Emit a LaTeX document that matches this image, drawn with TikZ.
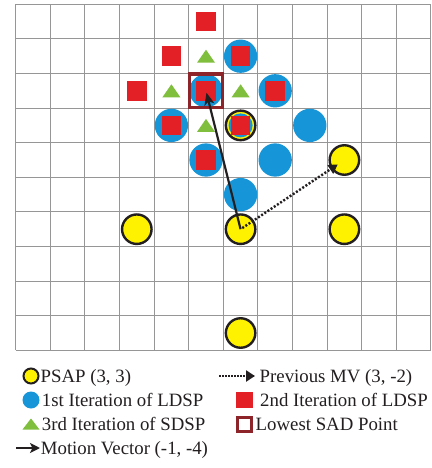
\documentclass[tikz,border=0pt]{standalone}
\usepackage{fontspec}
\setmainfont{Liberation Serif}
\usetikzlibrary{arrows.meta}
\definecolor{psapyellow}{RGB}{255,242,0}
\definecolor{darkline}{RGB}{35,31,32}
\definecolor{ldspblue}{RGB}{22,150,216}
\definecolor{ldspred}{RGB}{226,32,38}
\definecolor{sdspgreen}{RGB}{128,190,62}
\definecolor{sadred}{RGB}{140,36,42}
\definecolor{gridgray}{RGB}{150,150,150}
\begin{document}
\begin{tikzpicture}[x=1pt,y=-1pt,
  gridline/.style={draw=gridgray,line width=1pt},
  psap/.style={circle,fill=psapyellow,draw=darkline,line width=2.4pt,minimum size=29.5pt,inner sep=0pt},
  ldspone/.style={circle,fill=ldspblue,minimum size=33.3pt,inner sep=0pt},
  ldsptwo/.style={rectangle,fill=ldspred,minimum size=19.5pt,inner sep=0pt},
  sadbox/.style={rectangle,draw=sadred,line width=3.3pt,minimum size=33.3pt,inner sep=0pt},
  mvarrow/.style={draw=darkline,line width=2.2pt,-{Stealth[length=12pt,width=10pt,inset=3pt]}},
  pmvarrow/.style={draw=darkline,line width=2.4pt,dash pattern=on 2pt off 1.8pt,-{Triangle[length=9pt,width=10pt]}},
  legtext/.style={anchor=base west,inner sep=0pt,text=darkline,font=\fontsize{18.8}{22}\selectfont},
  legarrowsolid/.style={draw=darkline,line width=2.2pt,-{Stealth[length=10pt,width=10pt,inset=2.5pt]}},
  legarrowdot/.style={draw=darkline,line width=2.2pt,dash pattern=on 1.6pt off 1.4pt,-{Triangle[length=9pt,width=11pt]}}
]
\useasboundingbox (0,0) rectangle (431,468);
\fill[white] (0,0) rectangle (431,468);

% grid
\foreach \i in {0,...,12} \draw[gridline] ({15.7+34.6*\i},4.3) -- ({15.7+34.6*\i},350.3);
\foreach \j in {0,...,10} \draw[gridline] (15.7,{4.3+34.6*\j}) -- (431,{4.3+34.6*\j});

\begin{scope}[shift={(15.7,4.3)},x=34.6pt,y=-34.6pt]
  % PSAP points
  \node[psap] (y0) at (6.5,6.5) {};
  \node[psap] (y1) at (3.5,6.5) {};
  \node[psap] (y2) at (9.5,6.5) {};
  \node[psap] (y3) at (6.5,9.5) {};
  \node[psap] (y4) at (6.5,3.5) {};
  \node[psap] (y5) at (9.5,4.5) {};
  % 1st iteration LDSP
  \node[ldspone] (b1) at (6.5,1.5) {};
  \node[ldspone] (b2) at (5.5,2.5) {};
  \node[ldspone] (b3) at (7.5,2.5) {};
  \node[ldspone] (b4) at (4.5,3.5) {};
  \node[ldspone] (b5) at (8.5,3.5) {};
  \node[ldspone] (b6) at (5.5,4.5) {};
  \node[ldspone] (b7) at (7.5,4.5) {};
  \node[ldspone] (b8) at (6.5,5.5) {};
  \node[ldspone,minimum size=24pt] (b0) at (6.5,3.5) {};
  % 2nd iteration LDSP
  \node[ldsptwo] (r1) at (5.5,0.5) {};
  \node[ldsptwo] (r2) at (4.5,1.5) {};
  \node[ldsptwo] (r3) at (6.5,1.5) {};
  \node[ldsptwo] (r4) at (3.5,2.5) {};
  \node[ldsptwo] (r5) at (5.5,2.5) {};
  \node[ldsptwo] (r6) at (7.5,2.5) {};
  \node[ldsptwo] (r7) at (4.5,3.5) {};
  \node[ldsptwo] (r8) at (6.5,3.5) {};
  \node[ldsptwo] (r9) at (5.5,4.5) {};
  % 3rd iteration SDSP
  \coordinate (g1) at (5.5,1.5);
  \coordinate (g2) at (4.5,2.5);
  \coordinate (g3) at (6.5,2.5);
  \coordinate (g4) at (5.5,3.5);
  \foreach \g in {g1,g2,g3,g4}
    \fill[sdspgreen] (\g) ++(-9pt,-6.5pt) -- ++(18pt,0pt) -- ++(-9pt,13pt) -- cycle;
  % lowest SAD point
  \node[sadbox] (sad) at (5.5,2.5) {};
\end{scope}

% vectors
\draw[pmvarrow,shorten <=2pt,shorten >=8pt] (y0.center) -- (y5.center);
\draw[mvarrow,shorten >=2pt] (y0.center) -- (sad.center);

% legend
\node[psap,minimum size=15pt,line width=2pt] (lp) at (31,376) {};
\node[legtext] (tp) at (40.5,382.5) {PSAP (3, 3)};
\node[ldspone,minimum size=17pt] (lb) at (31,400) {};
\node[legtext] (tb) at (41.7,406.5) {1st Iteration of LDSP};
\coordinate (lg) at (31,424);
\fill[sdspgreen] (lg) ++(-8.5pt,-5.5pt) -- ++(17pt,0pt) -- ++(-8.5pt,11pt) -- cycle;
\node[legtext] (tg) at (41.7,430.5) {3rd Iteration of SDSP};
\coordinate (lma) at (16,448);
\coordinate (lmb) at (40,448);
\draw[legarrowsolid] (lma) -- (lmb);
\node[legtext] (tm) at (40.7,454.5) {Motion Vector (-1, -4)};

\coordinate (lda) at (219,376);
\coordinate (ldb) at (255,376);
\draw[legarrowdot] (lda) -- (ldb);
\node[legtext] (td) at (259.5,382.5) {Previous MV (3, -2)};
\node[ldsptwo,minimum size=16.5pt] (lr) at (244.5,400) {};
\node[legtext] (tr) at (260,406.5) {2nd Iteration of LDSP};
\node[sadbox,minimum size=14pt,line width=3pt,fill=white] (ls) at (244.5,424) {};
\node[legtext] (ts) at (255.5,430.5) {Lowest SAD Point};
\end{tikzpicture}
\end{document}
